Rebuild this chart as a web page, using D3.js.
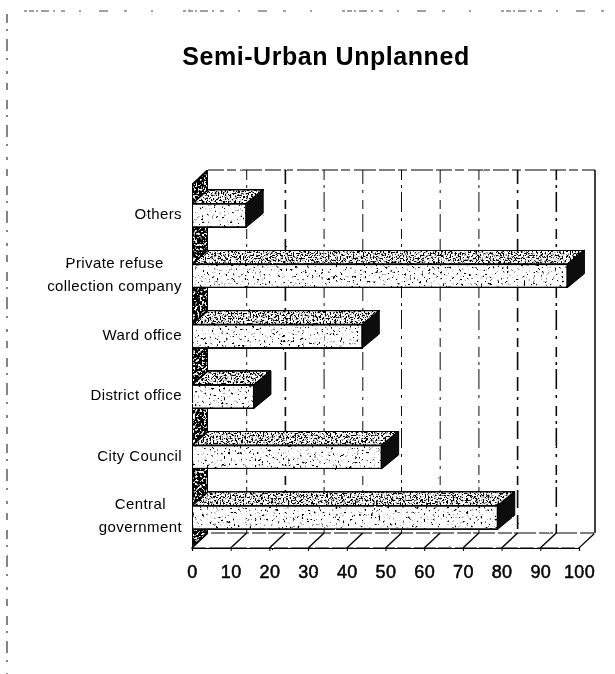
<!DOCTYPE html>
<html>
<head>
<meta charset="utf-8">
<script src="https://cdn.jsdelivr.net/npm/d3@7"></script>
<style>
    body { margin: 0; background: #fff; }
    svg { display: block; }
    text { font-family: "Liberation Sans", Arial, sans-serif; fill: #000; }
</style>
</head>
<body>
<div id="chart"></div>
<script>
const categories = ["Others", "Private refuse\ncollection company", "Ward office", "District office", "City Council", "Central\ngovernment"]
const values = [14, 97, 44, 16, 49, 79]
const tickValues = [0, 10, 20, 30, 40, 50, 60, 70, 80, 90, 100]

const width = 615
const height = 674
const wallX = 16, wallY = 15   // depth of the 3d box
const barX = 17, barY = 14     // depth of each bar

const svg = d3.select("#chart").append("svg")
    .attr("width", width)
    .attr("height", height)

// speckle like the scanned print, one filter per density
const defs = svg.append("defs")
function speckle(id, freq, slope, offset) {
    const f = defs.append("filter").attr("id", id)
        .attr("x", 0).attr("y", 0).attr("width", 1).attr("height", 1)
    f.append("feTurbulence").attr("type", "fractalNoise")
        .attr("baseFrequency", freq).attr("numOctaves", 2).attr("seed", 4).attr("result", "noise")
    f.append("feColorMatrix").attr("in", "noise").attr("type", "matrix")
        .attr("values", "0 0 0 0 0  0 0 0 0 0  0 0 0 0 0  " + slope + " 0 0 0 " + offset).attr("result", "dots")
    f.append("feComposite").attr("in", "dots").attr("in2", "SourceAlpha").attr("operator", "in").attr("result", "clipped")
    const m = f.append("feMerge")
    m.append("feMergeNode").attr("in", "SourceGraphic")
    m.append("feMergeNode").attr("in", "clipped")
}
speckle("specLight", 0.42, 9, -5.5)
speckle("specTop", 0.6, 9, -4.3)
speckle("specWall", 0.45, 9, -3.1)

// slightly rough edges, the original is a photocopy
const rough = defs.append("filter").attr("id", "rough")
    .attr("filterUnits", "userSpaceOnUse")
    .attr("x", 0).attr("y", 0).attr("width", width).attr("height", height)
rough.append("feTurbulence").attr("type", "fractalNoise")
    .attr("baseFrequency", 0.35).attr("numOctaves", 1).attr("seed", 9).attr("result", "n")
rough.append("feDisplacementMap").attr("in", "SourceGraphic").attr("in2", "n").attr("scale", 1.8)

const chart = svg.append("g").attr("filter", "url(#rough)")

const x = d3.scaleLinear().domain([0, 100]).range([192, 579])
const y = d3.scaleBand().domain(categories).range([185, 548]).paddingInner(0.61).paddingOuter(0.31)
const floorY = y.range()[1]
const topY = y.range()[0]

// page frame left over from the scan
chart.append("line").attr("x1", 24).attr("x2", 615).attr("y1", 11).attr("y2", 11)
    .attr("stroke", "#444").attr("stroke-width", 1)
    .attr("stroke-dasharray", "3 2 5 2 2 3 8 4 2 6 4 14 2 18 9 16 3 24 2 30")
chart.append("line").attr("x1", 7).attr("x2", 7).attr("y1", 14).attr("y2", height)
    .attr("stroke", "#222").attr("stroke-width", 1.1)
    .attr("stroke-dasharray", "9 6 2 8 12 7 2 11 3 9 7 10")

chart.append("text").attr("x", 326).attr("y", 65)
    .attr("text-anchor", "middle")
    .style("font-size", "25px").style("font-weight", "bold")
    .style("letter-spacing", "0.55px")
    .text("Semi-Urban Unplanned")

// back wall gridlines
chart.selectAll(".grid")
    .data(tickValues.slice(1, -1))
    .enter()
    .append("line")
    .attr("x1", d => x(d) + wallX).attr("x2", d => x(d) + wallX)
    .attr("y1", topY - wallY).attr("y2", floorY - wallY)
    .attr("stroke", "#111")
    .attr("stroke-width", (d, i) => i > 6 || i == 1 ? 1.6 : 1)
    .attr("stroke-dasharray", (d, i) => i % 2 ? "14 6 3 7 9 5 18 7" : "10 5 3 4 20 6 3 8")

// top and right edge of the wall
chart.append("line")
    .attr("x1", x(0) + wallX).attr("x2", x(100) + wallX)
    .attr("y1", topY - wallY).attr("y2", topY - wallY)
    .attr("stroke", "#000").attr("stroke-width", 1.2).attr("stroke-dasharray", "16 3 9 4 22 3")
chart.append("line")
    .attr("x1", x(100) + wallX).attr("x2", x(100) + wallX)
    .attr("y1", topY - wallY).attr("y2", floorY - wallY)
    .attr("stroke", "#000").attr("stroke-width", 1.5)

// left side wall
chart.append("path")
    .attr("d", d3.line()([[x(0), topY], [x(0) + wallX, topY - wallY], [x(0) + wallX, floorY - wallY], [x(0), floorY]]) + "Z")
    .attr("fill", "#fff").attr("stroke", "#000").attr("stroke-width", 2)
    .attr("filter", "url(#specWall)")

// floor
chart.append("path")
    .attr("d", d3.line()([[x(0), floorY], [x(0) + wallX, floorY - wallY], [x(100) + wallX, floorY - wallY], [x(100), floorY]]) + "Z")
    .attr("fill", "#fff").attr("stroke", "#000").attr("stroke-width", 1.2)
    .attr("stroke-dasharray", "22 3 14 2")
chart.selectAll(".floorLine")
    .data(tickValues.slice(1, -1))
    .enter()
    .append("line")
    .attr("x1", d => x(d)).attr("x2", d => x(d) + wallX)
    .attr("y1", floorY).attr("y2", floorY - wallY)
    .attr("stroke", "#000").attr("stroke-width", 1.4)

// bars, back to front
const bars = chart.selectAll(".bar")
    .data(categories.map((c, i) => ({ category: c, value: values[i] })))
    .enter()
    .append("g")

bars.append("path")
    .attr("d", d => {
        const x0 = x(0), x1 = x(d.value), y0 = y(d.category)
        return d3.line()([[x0, y0], [x0 + barX - 1, y0 - barY], [x1 + barX, y0 - barY], [x1, y0]]) + "Z"
    })
    .attr("fill", "#fff").attr("stroke", "#000").attr("stroke-width", 1.6)
    .attr("filter", "url(#specTop)")

bars.append("path")
    .attr("d", d => {
        const x1 = x(d.value), y0 = y(d.category), y1 = y0 + y.bandwidth()
        return d3.line()([[x1, y0], [x1 + barX, y0 - barY], [x1 + barX, y1 - barY], [x1, y1]]) + "Z"
    })
    .attr("fill", "#111").attr("stroke", "#000")

bars.append("rect")
    .attr("x", x(0))
    .attr("y", d => y(d.category))
    .attr("width", d => x(d.value) - x(0))
    .attr("height", y.bandwidth())
    .attr("fill", "#fff").attr("stroke", "#000").attr("stroke-width", 2)
    .attr("filter", "url(#specLight)")

// category labels: block sits against the axis, lines centred inside it
const labelRight = 182
const labels = chart.selectAll(".label")
    .data(categories)
    .enter()
    .append("text")
    .attr("text-anchor", "middle")
    .style("font-size", "15px")
    .style("letter-spacing", "0.4px")

labels.each(function(d) {
    const lines = d.split("\n")
    const label = d3.select(this)
    const spans = label.selectAll("tspan")
        .data(lines)
        .enter()
        .append("tspan")
        .text(l => l)
    const longest = d3.max(spans.nodes(), n => n.getComputedTextLength())
    const mid = y(d) + y.bandwidth() / 2 - 0.5
    spans.attr("x", labelRight - longest / 2)
        .attr("y", (l, i) => mid + 4 + (i - (lines.length - 1) / 2) * 23)
})

// value axis
const axis = chart.append("g")
    .attr("transform", "translate(0," + floorY + ")")
    .call(d3.axisBottom(x).tickValues(tickValues).tickSize(3).tickPadding(14))
axis.select(".domain").attr("stroke", "#000").attr("stroke-width", 1.2)
axis.selectAll("text")
    .style("font-size", "18px")
    .style("letter-spacing", "0.4px")
    .attr("stroke", "#000")
    .attr("stroke-width", 0.5)
</script>
</body>
</html>
